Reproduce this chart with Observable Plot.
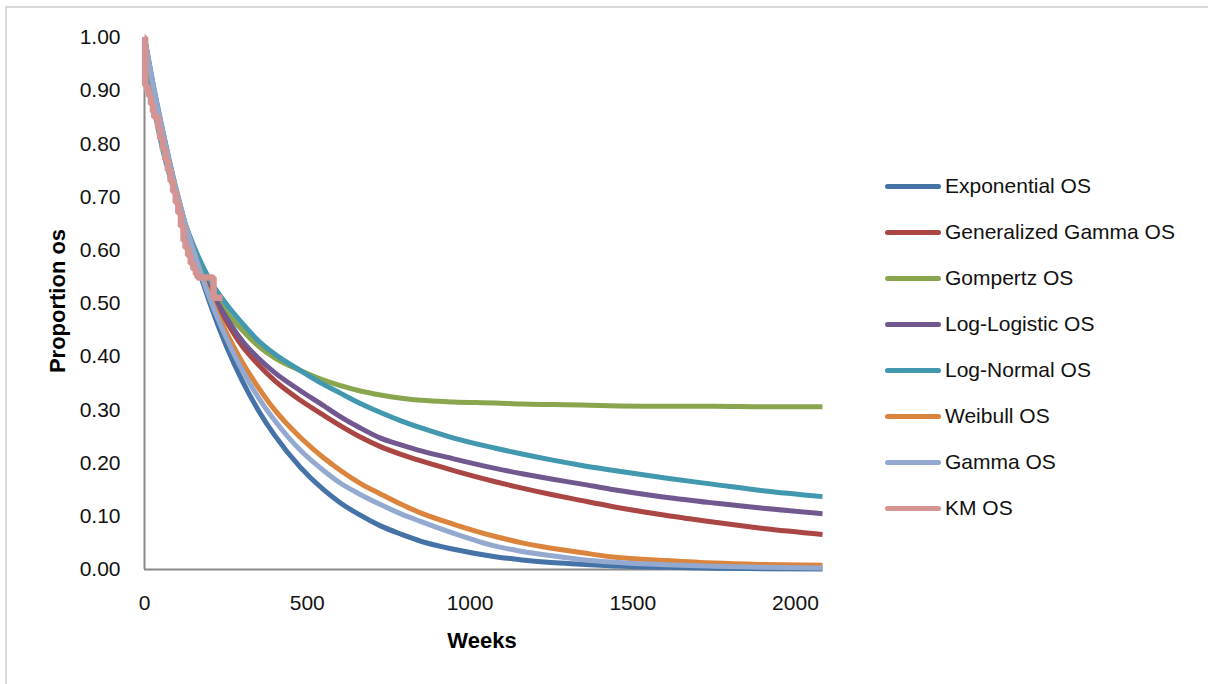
<!DOCTYPE html>
<html>
<head>
<meta charset="utf-8">
<script src="https://cdn.jsdelivr.net/npm/d3@7"></script>
<script src="https://cdn.jsdelivr.net/npm/@observablehq/plot@0.6"></script>
<style>
  html, body { margin: 0; padding: 0; background: #fff; }
  #wrap { position: relative; width: 1208px; height: 684px; overflow: hidden; font-family: "Liberation Sans", Arial, sans-serif; }
  #frame { position: absolute; left: 5px; top: 6px; width: 1220px; height: 700px; border: 2px solid #d9d9d9; box-sizing: border-box; }
  #chart { position: absolute; left: 0; top: 0; }
  .ttl { position: absolute; font-weight: bold; font-size: 22px; color: #000; white-space: nowrap; }
  #ylab { left: 58px; top: 301px; transform: translate(-50%, -50%) rotate(-90deg); }
  #xlab { left: 482px; top: 641px; transform: translate(-50%, -50%); }
  #legend { position: absolute; left: 885px; top: 174px; }
  .item { position: relative; height: 46px; font-size: 21px; color: #111; white-space: nowrap; }
  .sw { position: absolute; left: 0; top: 10px; width: 56px; height: 5px; border-radius: 3px; }
  .lt { position: absolute; left: 60px; top: 0; line-height: 24px; }
</style>
</head>
<body>
<div id="wrap">
  <div id="frame"></div>
  <div id="chart"></div>
  <div class="ttl" id="ylab">Proportion os</div>
  <div class="ttl" id="xlab">Weeks</div>
  <div id="legend"></div>
</div>
<script>
// ---- data ----
const weeks       = [0, 25, 50, 75, 100, 150, 200, 250, 300, 350, 400, 479, 550, 600, 660, 725, 790, 850, 950, 1078, 1160, 1250, 1340, 1432, 1600, 1750, 1900, 2083];
const exponential = [1, 0.917, 0.842, 0.772, 0.708, 0.596, 0.502, 0.422, 0.355, 0.299, 0.252, 0.192, 0.150, 0.126, 0.103, 0.082, 0.066, 0.053, 0.038, 0.024, 0.018, 0.013, 0.010, 0.007, 0.004, 0.0024, 0.0014, 0.0008];
const genGamma    = [1, 0.905, 0.83, 0.76, 0.70, 0.60, 0.525, 0.468, 0.42, 0.385, 0.355, 0.318, 0.29, 0.271, 0.25, 0.231, 0.216, 0.204, 0.186, 0.165, 0.153, 0.141, 0.130, 0.119, 0.102, 0.089, 0.077, 0.066];
const gompertz    = [1, 0.905, 0.83, 0.76, 0.70, 0.60, 0.53, 0.485, 0.45, 0.42, 0.398, 0.374, 0.356, 0.346, 0.336, 0.328, 0.322, 0.318, 0.315, 0.313, 0.311, 0.31, 0.309, 0.308, 0.307, 0.307, 0.306, 0.306];
const logLogistic = [1, 0.90, 0.825, 0.76, 0.70, 0.60, 0.53, 0.475, 0.43, 0.397, 0.37, 0.336, 0.308, 0.288, 0.267, 0.247, 0.234, 0.223, 0.208, 0.19, 0.180, 0.170, 0.161, 0.151, 0.136, 0.125, 0.115, 0.105];
const logNormal   = [1, 0.885, 0.805, 0.745, 0.695, 0.61, 0.545, 0.50, 0.463, 0.43, 0.405, 0.374, 0.348, 0.332, 0.313, 0.295, 0.279, 0.266, 0.247, 0.228, 0.217, 0.206, 0.196, 0.187, 0.172, 0.16, 0.148, 0.137];
const weibull     = [1, 0.91, 0.835, 0.766, 0.705, 0.60, 0.515, 0.447, 0.39, 0.342, 0.30, 0.248, 0.21, 0.187, 0.163, 0.142, 0.122, 0.106, 0.085, 0.062, 0.050, 0.040, 0.032, 0.024, 0.017, 0.012, 0.0095, 0.008];
const gamma       = [1, 0.915, 0.84, 0.77, 0.706, 0.60, 0.51, 0.437, 0.375, 0.323, 0.28, 0.224, 0.186, 0.163, 0.142, 0.122, 0.104, 0.09, 0.068, 0.044, 0.034, 0.026, 0.019, 0.014, 0.009, 0.006, 0.004, 0.003];
const kmWeeks = [0, 2, 8, 14, 20, 26, 30, 42, 48, 56, 64, 72, 80, 88, 96, 104, 112, 120, 126, 134, 142, 150, 158, 163, 212, 240];
const kmSurv  = [1.0, 0.91, 0.90, 0.89, 0.875, 0.86, 0.85, 0.83, 0.81, 0.79, 0.77, 0.75, 0.73, 0.71, 0.69, 0.67, 0.645, 0.618, 0.605, 0.59, 0.575, 0.565, 0.555, 0.549, 0.511, 0.511];
const seriesNames = ["Exponential OS", "Generalized Gamma OS", "Gompertz OS", "Log-Logistic OS", "Log-Normal OS", "Weibull OS", "Gamma OS", "KM OS"];
const seriesColors = ["#4572A7", "#AA4643", "#89A54E", "#71588F", "#4198AF", "#DB843D", "#93A9CF", "#D49492"];
const xTicks = [0, 500, 1000, 1500, 2000];
const yTicks = [0, 0.1, 0.2, 0.3, 0.4, 0.5, 0.6, 0.7, 0.8, 0.9, 1.0];

// ---- build tables ----
const fitted = [exponential, genGamma, gompertz, logLogistic, logNormal, weibull, gamma];
const fitRows = [];
fitted.forEach((vals, i) => {
  vals.forEach((v, j) => fitRows.push({series: seriesNames[i], week: weeks[j], surv: v}));
});
const kmRows = kmWeeks.map((w, j) => ({series: "KM OS", week: w, surv: kmSurv[j]}));

const plot = Plot.plot({
  width: 1208,
  height: 684,
  marginLeft: 144,
  marginRight: 386,
  marginTop: 37,
  marginBottom: 115,
  style: {fontFamily: '"Liberation Sans", Arial, sans-serif', fontSize: "21px", color: "#111", background: "transparent"},
  x: {domain: [0, 2083], ticks: xTicks},
  y: {domain: [0, 1], ticks: yTicks},
  color: {domain: seriesNames, range: seriesColors},
  marks: [
    Plot.axisX({ticks: xTicks, tickSize: 0, tickPadding: 26, label: null, tickFormat: d3.format("d")}),
    Plot.axisY({ticks: yTicks, tickSize: 0, tickPadding: 24, label: null, tickFormat: d3.format(".2f")}),
    Plot.ruleX([0], {stroke: "#8a8a8a", strokeWidth: 2}),
    Plot.ruleY([0], {stroke: "#8a8a8a", strokeWidth: 2}),
    Plot.line(fitRows, {x: "week", y: "surv", z: "series", stroke: "series", strokeWidth: 5, curve: "monotone-x", strokeLinecap: "butt"}),
    Plot.line(kmRows, {x: "week", y: "surv", stroke: "series", strokeWidth: 6.5, curve: "step-after", strokeLinecap: "butt", strokeLinejoin: "miter"})
  ]
});
document.getElementById("chart").appendChild(plot);

// ---- legend ----
const leg = document.getElementById("legend");
seriesNames.forEach((name, i) => {
  const it = document.createElement("div");
  it.className = "item";
  const sw = document.createElement("div");
  sw.className = "sw";
  sw.style.background = seriesColors[i];
  const t = document.createElement("div");
  t.className = "lt";
  t.textContent = name;
  it.appendChild(sw);
  it.appendChild(t);
  leg.appendChild(it);
});
</script>
</body>
</html>
